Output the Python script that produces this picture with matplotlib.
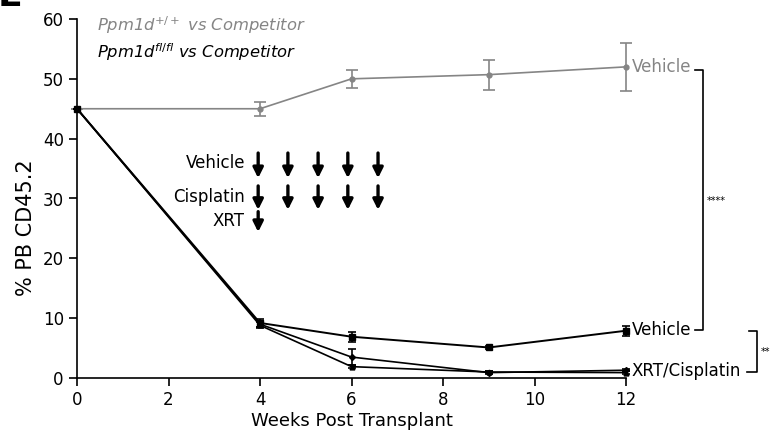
import matplotlib
matplotlib.use("Agg")
import matplotlib.pyplot as plt

# data
weeks = [0, 4, 6, 9, 12]
wt_vehicle = [45, 45, 50, 50.7, 52]
wt_vehicle_err = [0, 1.2, 1.5, 2.5, 4.0]
fl_vehicle = [45, 9.2, 6.9, 5.1, 7.9]
fl_vehicle_err = [0, 0.6, 0.8, 0.3, 0.8]
fl_cisplatin = [45, 9.0, 3.5, 0.9, 1.3]
fl_cisplatin_err = [0, 0.5, 1.3, 0.2, 0.2]
fl_xrt_cis = [45, 8.8, 1.9, 1.0, 0.9]
fl_xrt_cis_err = [0, 0.5, 0.3, 0.2, 0.2]

vehicle_doses = [3.96, 4.61, 5.27, 5.92, 6.58]
cisplatin_doses = [3.96, 4.61, 5.27, 5.92, 6.58]
xrt_doses = [3.96]

GRAY = "#858585"

plt.rcParams['font.family'] = ['DejaVu Sans']

fig = plt.figure(figsize=(7.72, 4.40), dpi=100)
ax = fig.add_axes([77/772, 1-378/440, (626-77)/772, (378-19)/440])

ax.errorbar(weeks, wt_vehicle, yerr=wt_vehicle_err, color=GRAY, lw=1.2,
            marker='o', ms=3.5, capsize=4, elinewidth=1.2, capthick=1.2, clip_on=False, zorder=3)
ax.errorbar(weeks, fl_vehicle, yerr=fl_vehicle_err, color='k', lw=1.4,
            marker='s', ms=5, capsize=3, elinewidth=1.2, capthick=1.2, clip_on=False, zorder=4)
ax.errorbar(weeks, fl_cisplatin, yerr=fl_cisplatin_err, color='k', lw=1.2,
            marker='D', ms=3, capsize=3, elinewidth=1.2, capthick=1.2, clip_on=False, zorder=4)
ax.errorbar(weeks, fl_xrt_cis, yerr=fl_xrt_cis_err, color='k', lw=1.2,
            marker='^', ms=3.5, capsize=3, elinewidth=1.2, capthick=1.2, clip_on=False, zorder=4)

ax.set_xlim(0, 12)
ax.set_ylim(0, 60)
ax.set_xticks(range(0, 13, 2))
ax.set_yticks(range(0, 61, 10))
ax.tick_params(labelsize=12, width=1.2, length=6, direction='out')
ax.spines['top'].set_visible(False)
ax.spines['right'].set_visible(False)
ax.spines['left'].set_linewidth(1.2)
ax.spines['bottom'].set_linewidth(1.2)
ax.set_xlabel("Weeks Post Transplant", fontsize=13, labelpad=2)
ax.set_ylabel("% PB CD45.2", fontsize=15)
ax.yaxis.set_label_coords(-0.075, 0.42)

# legend as text
ax.text(0.44, 58.9, r"Ppm1d$^{\mathit{+/+}}$ vs Competitor", color=GRAY, style='italic',
        fontsize=11.8, va='center')
ax.text(0.44, 54.5, r"Ppm1d$^{\mathit{fl/fl}}$ vs Competitor", color='k', style='italic',
        fontsize=11.8, va='center')

# treatment schedule
arrow_kw = dict(arrowstyle='-|>', lw=2.4, color='k', mutation_scale=15, shrinkA=0, shrinkB=0)
rows = [("Vehicle", vehicle_doses, 37.6, 33.4, 36.0),
        ("Cisplatin", cisplatin_doses, 32.1, 28.1, 30.3),
        ("XRT", xrt_doses, 27.8, 24.4, 26.3)]
for name, doses, ytop, ybot, ylab in rows:
    ax.text(3.67, ylab, name, ha='right', va='center', fontsize=12)
    for d in doses:
        ax.annotate("", xy=(d, ybot), xytext=(d, ytop), arrowprops=arrow_kw)

# end labels
ax.text(12.12, 52, "Vehicle", color=GRAY, fontsize=12, va='center', clip_on=False)
ax.text(12.12, 8.0, "Vehicle", color='k', fontsize=12, va='center', clip_on=False)
ax.text(12.12, 1.2, "XRT/Cisplatin", color='k', fontsize=12, va='center', clip_on=False)

# significance brackets
ax.plot([13.5, 13.68, 13.68, 13.5], [51.5, 51.5, 8.0, 8.0], color='k', lw=1.2, clip_on=False)
ax.text(13.77, 29.6, "****", fontsize=7, va='center', clip_on=False)
ax.plot([14.68, 14.86, 14.86, 14.64], [7.86, 7.86, 1.0, 1.0], color='k', lw=1.2, clip_on=False)
ax.text(14.95, 4.35, "**", fontsize=7, va='center', clip_on=False)

# panel letter, cut off at the top like in the source figure
fig.text(-2/772, 1-6/440, "E", fontsize=26, fontweight='bold', va='baseline', ha='left')

fig.savefig("out.png", dpi=100)
